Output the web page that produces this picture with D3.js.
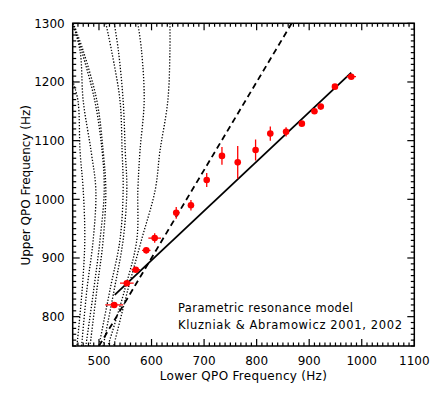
<!DOCTYPE html>
<html>
<head>
<meta charset="utf-8">
<script src="https://cdn.jsdelivr.net/npm/d3@7"></script>
<style>
  body { margin: 0; background: #fff; }
  text { font-family: "DejaVu Sans", sans-serif; fill: #000; }
</style>
</head>
<body>
<div id="chart"></div>
<script>
// observed QPO pairs (Hz)
var lowerQPO = [529, 553, 570, 590, 606, 647, 675, 705, 734, 764, 798, 826, 856, 886, 910, 922, 949, 980];
var upperQPO = [820, 857, 880, 913, 934, 977, 990, 1033, 1074, 1063, 1084, 1112, 1115, 1129, 1150, 1158, 1192, 1209];
var lowerErr = [17, 13, 8, 8, 12, 4, 4, 3, 3, 3, 3, 3, 3, 3, 3, 3, 4, 9];
var upperErr = [4, 3, 4, 5, 8, 10, 9, 12, 15, 28, 18, 12, 8, 4, 4, 4, 3, 3];

// model lines
var ratioLine = [[500, 750], [866.7, 1300]];          // 3:2 dashed
var fitLine = [[530, 837], [980, 1216]];              // solid model
var dottedCurves = [
  [[450, 1202], [460, 1168], [464, 1082], [470, 1016], [473, 931], [468, 846], [458, 750]],
  [[450, 1300], [464, 1253], [470, 1168], [485, 1082], [494, 1016], [489, 931], [477, 846], [467, 750]],
  [[450, 1300], [467, 1253], [492, 1168], [506, 1082], [510, 1016], [502, 931], [490, 846], [475, 750]],
  [[451, 1300], [470, 1253], [496, 1168], [508, 1082], [513, 1016], [508, 931], [496, 846], [483, 750]],
  [[513, 1300], [524, 1253], [540, 1168], [544, 1082], [546, 1016], [540, 931], [521, 846], [500, 750]],
  [[529, 1300], [537, 1253], [546, 1168], [550, 1082], [553, 1016], [546, 931], [529, 846], [508, 750]],
  [[574, 1300], [581, 1253], [586, 1168], [578, 1082], [574, 1016], [572, 931], [549, 846], [517, 750]],
  [[635, 1300], [635, 1253], [631, 1168], [616, 1082], [607, 1016], [581, 931], [555, 846], [528, 750]]
];

var xTicks = [500, 600, 700, 800, 900, 1000, 1100];
var yTicks = [800, 900, 1000, 1100, 1200, 1300];
var xTitle = "Lower QPO Frequency (Hz)";
var yTitle = "Upper QPO Frequency (Hz)";
var notes = ["Parametric resonance model", "Kluzniak & Abramowicz 2001, 2002"];
var noteWidths = [175, 224];

var W = 436, H = 393;
var margin = { top: 23.3, right: 21.7, bottom: 47, left: 72.7 };
var width = W - margin.left - margin.right;
var height = H - margin.top - margin.bottom;

var svg = d3.select("#chart").append("svg")
    .attr("width", W).attr("height", H);

var g = svg.append("g")
    .attr("transform", "translate(" + margin.left + "," + margin.top + ")");

var x = d3.scaleLinear().domain([450, 1100]).range([0, width]);
var y = d3.scaleLinear().domain([750, 1300]).range([height, 0]);

g.append("clipPath").attr("id", "clip")
  .append("rect").attr("width", width).attr("height", height);

var plot = g.append("g").attr("clip-path", "url(#clip)");

var curveLine = d3.line()
    .x(function(d) { return x(d[0]); })
    .y(function(d) { return y(d[1]); })
    .curve(d3.curveCatmullRom);

plot.selectAll(".dotted")
    .data(dottedCurves)
    .enter().append("path")
    .attr("class", "dotted")
    .attr("d", curveLine)
    .attr("fill", "none")
    .attr("stroke", "#000")
    .attr("stroke-width", 1.3)
    .attr("stroke-dasharray", "1.3,1.7");

var straight = d3.line()
    .x(function(d) { return x(d[0]); })
    .y(function(d) { return y(d[1]); });

plot.append("path")
    .attr("d", straight(ratioLine))
    .attr("fill", "none").attr("stroke", "#000")
    .attr("stroke-width", 1.8).attr("stroke-dasharray", "6,4");

plot.append("path")
    .attr("d", straight(fitLine))
    .attr("fill", "none").attr("stroke", "#000")
    .attr("stroke-width", 1.8);

// data points with error bars
var pts = lowerQPO.map(function(v, i) {
    return { lo: v, up: upperQPO[i], ex: lowerErr[i], ey: upperErr[i] };
});

var pg = plot.selectAll(".pt").data(pts).enter().append("g").attr("class", "pt");
pg.append("line")
    .attr("x1", function(d) { return x(d.lo - d.ex); })
    .attr("x2", function(d) { return x(d.lo + d.ex); })
    .attr("y1", function(d) { return y(d.up); })
    .attr("y2", function(d) { return y(d.up); })
    .attr("stroke", "#ff0000").attr("stroke-width", 1.3);
pg.append("line")
    .attr("x1", function(d) { return x(d.lo); })
    .attr("x2", function(d) { return x(d.lo); })
    .attr("y1", function(d) { return y(d.up - d.ey); })
    .attr("y2", function(d) { return y(d.up + d.ey); })
    .attr("stroke", "#ff0000").attr("stroke-width", 1.3);
pg.append("circle")
    .attr("cx", function(d) { return x(d.lo); })
    .attr("cy", function(d) { return y(d.up); })
    .attr("r", 3.3)
    .attr("fill", "#ff0000");

// axes on all four sides, IDL style inward ticks
function addTicks(axis, majorLen, minorLen) {
    var minors = axis === "x" ? d3.range(450, 1101, 10) : d3.range(750, 1301, 10);
    var majors = axis === "x" ? xTicks : yTicks;
    var tg = g.append("g");
    minors.forEach(function(v) {
        var len = majors.indexOf(v) >= 0 ? majorLen : minorLen;
        if (axis === "x") {
            tg.append("line").attr("x1", x(v)).attr("x2", x(v))
              .attr("y1", height).attr("y2", height - len);
            tg.append("line").attr("x1", x(v)).attr("x2", x(v))
              .attr("y1", 0).attr("y2", len);
        } else {
            tg.append("line").attr("y1", y(v)).attr("y2", y(v))
              .attr("x1", 0).attr("x2", len);
            tg.append("line").attr("y1", y(v)).attr("y2", y(v))
              .attr("x1", width).attr("x2", width - len);
        }
    });
    tg.selectAll("line").attr("stroke", "#000").attr("stroke-width", 1.2);
}
addTicks("x", 7, 3.5);
addTicks("y", 7, 3.5);

g.append("rect")
    .attr("width", width).attr("height", height)
    .attr("fill", "none").attr("stroke", "#000").attr("stroke-width", 1.5);

g.selectAll(".xlab").data(xTicks).enter().append("text")
    .attr("x", function(d) { return x(d); })
    .attr("y", height + 19)
    .attr("text-anchor", "middle")
    .style("font-size", "12px")
    .text(function(d) { return d; });

g.selectAll(".ylab").data(yTicks).enter().append("text")
    .attr("x", -8)
    .attr("y", function(d) { return y(d) + 4.5; })
    .attr("text-anchor", "end")
    .style("font-size", "12px")
    .text(function(d) { return d; });

g.append("text")
    .attr("x", width / 2)
    .attr("y", height + 34)
    .attr("text-anchor", "middle")
    .style("font-size", "12px")
    .style("letter-spacing", "0.3px")
    .text(xTitle);

g.append("text")
    .attr("transform", "rotate(-90)")
    .attr("x", -162)
    .attr("y", -43)
    .attr("text-anchor", "middle")
    .style("font-size", "12px")
    .text(yTitle);

g.selectAll(".note").data(notes).enter().append("text")
    .attr("x", 178 - margin.left)
    .attr("y", function(d, i) { return 289 + i * 17; })
    .attr("textLength", function(d, i) { return noteWidths[i]; })
    .attr("lengthAdjust", "spacing")
    .style("font-size", "11.5px")
    .text(function(d) { return d; });
</script>
</body>
</html>
